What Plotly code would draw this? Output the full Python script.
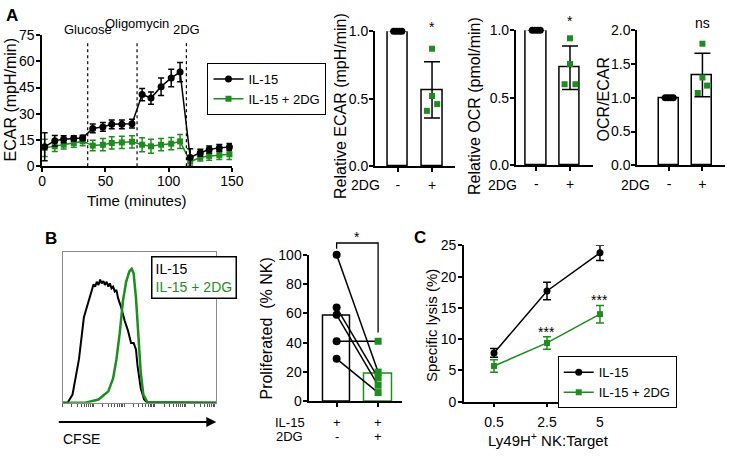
import numpy as np
import plotly.graph_objects as go

W, H = 738, 456
GREEN = "#1f8c1f"
BLACK = "#000000"
FONT = "Liberation Sans, Arial, sans-serif"
TICK = 14
TITLE = 15

# ---------------- Panel A: ECAR time course ----------------
time_min = [2, 10, 17, 25, 32, 40, 48, 55, 63, 71, 79, 86, 94, 102, 109, 117, 125, 132, 140, 148]
ecar_il15 = [11.1, 14.6, 15.5, 16.0, 16.2, 21.6, 22.5, 24.0, 24.0, 24.3, 41.0, 39.0, 45.5, 50.5, 53.8, 5.0, 7.7, 9.6, 10.5, 11.0]
ecar_il15_err = [8, 3, 2, 1.5, 1.5, 2.5, 2.5, 2.5, 2.5, 2.5, 3.5, 3.5, 5, 5, 5.5, 5, 2, 2, 2, 2]
ecar_2dg = [10.5, 11.4, 12.3, 13.3, 14.2, 11.8, 12.3, 13.3, 13.6, 14.0, 12.3, 11.4, 12.3, 12.9, 14.2, 2.6, 5.0, 5.9, 6.3, 6.8]
ecar_2dg_err = [5, 3, 2.5, 2.5, 2.5, 3, 3.5, 3.5, 3.5, 3.5, 4, 4, 3.5, 3.5, 4, 3, 2, 2.5, 2.5, 3]
inj_times = [36, 75, 114]
inj_labels = ["Glucose", "Oligomycin", "2DG"]

# ---------------- Panel A: relative bars ----------------
bar_cats = ["-", "+"]
rel_ecar_ctrl = [1.0, 1.0, 1.0, 1.0]
rel_ecar_2dg = [0.87, 0.52, 0.46, 0.41]
rel_ocr_ctrl = [1.0, 1.0, 1.0, 1.0]
rel_ocr_2dg = [0.94, 0.75, 0.60, 0.60]
ocr_ecar_ctrl = [1.0, 1.0, 1.0, 1.0]
ocr_ecar_2dg = [1.80, 1.30, 1.18, 1.07]
sig_ecar, sig_ocr, sig_ratio = "*", "*", "ns"

# ---------------- Panel B: CFSE histogram ----------------
cfse_x_il15 = [0, 3.2, 6.4, 10.6, 13.8, 16.9, 18.0, 19.0, 20.1, 21.1, 22.2, 23.3, 24.4, 25.4, 26.5, 27.5, 28.6, 29.7,
               30.7, 31.8, 32.8, 33.9, 35.0, 36.0, 38.1, 40.3, 42.4, 44.5, 46.2, 47.7, 48.7, 50.8, 53.0, 55.1, 100]
cfse_y_il15 = [0, 0, 5.4, 28.9, 56.7, 67.5, 70.7, 74.9, 78.6, 77.1, 80.3, 78.2, 81.8, 79.2, 80.7, 78.2, 80.3, 77.1,
               79.2, 76.0, 77.1, 73.9, 74.9, 69.6, 63.2, 54.6, 48.2, 39.6, 39.6, 35.3, 24.6, 9.6, 2.1, 0, 0]
cfse_x_2dg = [0, 14.8, 23.3, 29.7, 32.8, 35.0, 37.1, 39.2, 41.3, 43.4, 44.9, 46.2, 47.7, 49.2, 50.8, 52.5, 55.1, 100]
cfse_y_2dg = [0, 0, 2.1, 7.5, 16.1, 28.9, 46.0, 67.5, 80.3, 87.2, 88.9, 85.7, 69.6, 43.9, 20.3, 5.4, 0.4, 0]

# ---------------- Panel B: proliferation ----------------
prolif_il15 = [100, 64, 59, 41, 29]
prolif_2dg = [20, 16, 11, 41, 6]

# ---------------- Panel C: specific lysis ----------------
ratios = ["0.5", "2.5", "5"]
lysis_il15 = [7.8, 17.7, 23.8]
lysis_il15_err = [0.7, 1.4, 1.2]
lysis_2dg = [5.7, 9.4, 14.0]
lysis_2dg_err = [1.0, 1.0, 1.4]
sig_lysis = ["", "***", "***"]


def dx(a, b):
    return [a / W, b / W]


def dy(top, bottom):
    return [1 - bottom / H, 1 - top / H]


def px(x):
    return x / W


def py(y):
    return 1 - y / H


axis_common = dict(showline=True, linecolor=BLACK, linewidth=1.5, ticks="outside", ticklen=4,
                   tickwidth=1.5, tickcolor=BLACK, showgrid=False, zeroline=False,
                   tickfont=dict(size=TICK, color=BLACK, family=FONT))

fig = go.Figure()

# Panel A time course
fig.add_trace(go.Scatter(x=time_min, y=ecar_2dg, mode="lines+markers", name="IL-15 + 2DG",
                         line=dict(color=GREEN, width=1.5), marker=dict(symbol="square", size=6, color=GREEN),
                         error_y=dict(type="data", array=ecar_2dg_err, color=GREEN, thickness=1.5, width=3),
                         xaxis="x", yaxis="y", legend="legend", cliponaxis=False))
fig.add_trace(go.Scatter(x=time_min, y=ecar_il15, mode="lines+markers", name="IL-15",
                         line=dict(color=BLACK, width=1.5), marker=dict(symbol="circle", size=7, color=BLACK),
                         error_y=dict(type="data", array=ecar_il15_err, color=BLACK, thickness=1.5, width=3),
                         xaxis="x", yaxis="y", legend="legend", cliponaxis=False))
for t in inj_times:
    fig.add_shape(type="line", xref="x", yref="y", x0=t, x1=t, y0=0, y1=71,
                  line=dict(color=BLACK, width=1.2, dash="dot"))

# bar panels
jit_ctrl = [-0.12, -0.04, 0.04, 0.12]
jit_trt = [0.0, 0.0, 0.15, -0.15]
jit_ocr = [0.0, 0.0, -0.16, 0.16]
jit_ratio = [0.0, 0.0, 0.14, -0.14]
bar_panels = [
    ("x2", "y2", rel_ecar_ctrl, rel_ecar_2dg, jit_trt),
    ("x3", "y3", rel_ocr_ctrl, rel_ocr_2dg, jit_ocr),
    ("x4", "y4", ocr_ecar_ctrl, ocr_ecar_2dg, jit_ratio),
]
for xa, ya, ctrl, trt, jit in bar_panels:
    means = [float(np.mean(ctrl)), float(np.mean(trt))]
    sds = [float(np.std(ctrl, ddof=1)), float(np.std(trt, ddof=1))]
    fig.add_trace(go.Bar(x=[0, 1], y=means, width=0.6, marker=dict(color="white", line=dict(color=BLACK, width=1.5)),
                         error_y=dict(type="data", array=sds, color=BLACK, thickness=1.5, width=8,
                                      visible=True),
                         xaxis=xa, yaxis=ya, showlegend=False, cliponaxis=False))
    fig.add_trace(go.Scatter(x=[0 + j for j in jit_ctrl], y=ctrl, mode="markers",
                             marker=dict(symbol="circle", size=7, color=BLACK),
                             xaxis=xa, yaxis=ya, showlegend=False, cliponaxis=False))
    fig.add_trace(go.Scatter(x=[1 + j for j in jit], y=trt, mode="markers",
                             marker=dict(symbol="square", size=6, color=GREEN),
                             xaxis=xa, yaxis=ya, showlegend=False, cliponaxis=False))

# Panel B histogram
fig.add_trace(go.Scatter(x=cfse_x_il15, y=cfse_y_il15, mode="lines", line=dict(color=BLACK, width=2),
                         xaxis="x5", yaxis="y5", showlegend=False))
fig.add_trace(go.Scatter(x=cfse_x_2dg, y=cfse_y_2dg, mode="lines", line=dict(color=GREEN, width=2.5),
                         xaxis="x5", yaxis="y5", showlegend=False))

# Panel B proliferation
fig.add_trace(go.Bar(x=[0], y=[float(np.mean(prolif_il15))], width=0.66,
                     marker=dict(color="white", line=dict(color=BLACK, width=1.5)),
                     xaxis="x6", yaxis="y6", showlegend=False))
fig.add_trace(go.Bar(x=[1], y=[float(np.mean(prolif_2dg))], width=0.66,
                     marker=dict(color="white", line=dict(color=GREEN, width=1.5)),
                     xaxis="x6", yaxis="y6", showlegend=False))
for a, b in zip(prolif_il15, prolif_2dg):
    fig.add_trace(go.Scatter(x=[0, 1], y=[a, b], mode="lines", line=dict(color=BLACK, width=1.5),
                             xaxis="x6", yaxis="y6", showlegend=False))
fig.add_trace(go.Scatter(x=[0] * len(prolif_il15), y=prolif_il15, mode="markers",
                         marker=dict(symbol="circle", size=8, color=BLACK),
                         xaxis="x6", yaxis="y6", showlegend=False, cliponaxis=False))
fig.add_trace(go.Scatter(x=[1] * len(prolif_2dg), y=prolif_2dg, mode="markers",
                         marker=dict(symbol="square", size=7, color=GREEN),
                         xaxis="x6", yaxis="y6", showlegend=False, cliponaxis=False))

# Panel C lysis
fig.add_trace(go.Scatter(x=[0, 1, 2], y=lysis_il15, mode="lines+markers", name="IL-15",
                         line=dict(color=BLACK, width=1.5), marker=dict(symbol="circle", size=7, color=BLACK),
                         error_y=dict(type="data", array=lysis_il15_err, color=BLACK, thickness=1.5, width=4),
                         xaxis="x7", yaxis="y7", legend="legend2", cliponaxis=False))
fig.add_trace(go.Scatter(x=[0, 1, 2], y=lysis_2dg, mode="lines+markers", name="IL-15 + 2DG",
                         line=dict(color=GREEN, width=1.5), marker=dict(symbol="square", size=6, color=GREEN),
                         error_y=dict(type="data", array=lysis_2dg_err, color=GREEN, thickness=1.5, width=4),
                         xaxis="x7", yaxis="y7", legend="legend2", cliponaxis=False))

# ---------------- layout axes ----------------
layout = dict(
    width=W, height=H, margin=dict(l=0, r=0, t=0, b=0), paper_bgcolor="white", plot_bgcolor="rgba(0,0,0,0)",
    font=dict(family=FONT, size=TICK, color=BLACK), bargap=0,
)
layout["xaxis"] = dict(axis_common, domain=dx(39, 233), range=[0, 150], tickvals=[0, 50, 100, 150], anchor="y",
                       ticklabelstandoff=-3)
layout["yaxis"] = dict(axis_common, domain=dy(28, 164), range=[0, 75], tickvals=[0, 15, 30, 45, 60, 75], anchor="x",
                       ticklabelstandoff=-1)

bar_x = [(379, 461, [-0.67, 1.67], 24, 164, [0, 1], [0, 0.5, 1.0]),
         (523, 602, [-0.61, 1.68], 23, 163, [0, 1], [0, 0.5, 1.0]),
         (647, 737, [-0.97, 1.68], 23, 163, [0, 2], [0, 0.5, 1.0, 1.5, 2.0])]
for i, (a, b, rng, top, bot, yr, yt) in enumerate(bar_x):
    n = i + 2
    layout[f"xaxis{n}"] = dict(axis_common, domain=dx(a, b), range=rng, tickvals=[0, 1], ticktext=bar_cats,
                               anchor=f"y{n}", ticklabelstandoff=1)
    layout[f"yaxis{n}"] = dict(axis_common, domain=dy(top, bot), range=yr, tickvals=yt, tickformat=".1f",
                               anchor=f"x{n}", ticklabelstandoff=-2)

minor_ticks = [d * 20 + 20 * np.log10(m) for d in range(5) for m in range(1, 10)]
layout["xaxis5"] = dict(domain=dx(60, 217), range=[0, 100], showline=True, linecolor="#8a8a8a", linewidth=1,
                        mirror=True, ticks="outside", ticklen=3, tickwidth=1, tickcolor="#555",
                        tickvals=minor_ticks, showticklabels=False, showgrid=False, zeroline=False, anchor="y5")
layout["yaxis5"] = dict(domain=dy(253, 409), range=[0, 100], showline=True, linecolor="#8a8a8a", linewidth=1,
                        mirror=True, ticks="", showticklabels=False, showgrid=False, zeroline=False, anchor="x5")

layout["xaxis6"] = dict(axis_common, domain=dx(312, 407), range=[-0.66, 1.58], tickvals=[0, 1],
                        showticklabels=False, anchor="y6")
layout["yaxis6"] = dict(axis_common, domain=dy(255.7, 407.7), range=[0, 100], tickvals=[0, 20, 40, 60, 80, 100],
                        anchor="x6", ticklabelstandoff=-1)

layout["xaxis7"] = dict(axis_common, domain=dx(470, 633), range=[-0.57, 2.44], tickvals=[0, 1, 2],
                        ticktext=ratios, anchor="y7", ticklabelstandoff=3)
layout["yaxis7"] = dict(axis_common, domain=dy(246, 408), range=[0, 25], tickvals=[0, 5, 10, 15, 20, 25],
                        anchor="x7", ticklabelstandoff=-1)

legend_common = dict(bgcolor="white", bordercolor=BLACK, borderwidth=1, font=dict(size=13, color=BLACK),
                     xanchor="left", yanchor="top", tracegroupgap=0, itemwidth=30, traceorder="reversed")
layout["legend"] = dict(legend_common, x=px(208), y=py(57))
layout["legend2"] = dict(legend_common, x=px(566), y=py(361), traceorder="normal")

fig.update_layout(**layout)

# ---------------- annotations ----------------
ann = []


def text(x, y, s, size=TITLE, angle=0, color=BLACK, xref="paper", yref="paper", bold=False, xanchor="center",
         yanchor="middle"):
    ann.append(dict(x=x, y=y, xref=xref, yref=yref, text=f"<b>{s}</b>" if bold else s, showarrow=False,
                    textangle=angle, font=dict(size=size, color=color, family=FONT),
                    xanchor=xanchor, yanchor=yanchor))


# panel letters
text(px(8), py(8), "A", size=17, bold=True)
text(px(48), py(239), "B", size=17, bold=True)
text(px(425), py(238), "C", size=17, bold=True)

# axis titles
text(px(7), py(95), "ECAR (mpH/min)", size=16, angle=-90)
text(px(135), py(199), "Time (minutes)", size=TITLE)
text(px(344), py(102), "Relative ECAR (mpH/min)", size=16, angle=-90)
text(px(481), py(102), "Relative OCR (pmol/min)", size=16, angle=-90)
text(px(613), py(95), "OCR/ECAR", size=16, angle=-90)
text(px(268), py(332), "Proliferated  (% NK)", size=16, angle=-90)
text(px(437), py(329), "Specific lysis (%)", size=15, angle=-90)
text(px(557), py(447), "Ly49H<sup>+</sup> NK:Target", size=TITLE)

# injection labels
for t, lab, yy in zip(inj_times, inj_labels, [22, 16, 22]):
    text(t, py(yy), lab, size=13, xref="x")

# 2DG row labels for bar panels
for xc in [369, 510, 645]:
    text(px(xc), py(183), "2DG", size=TICK)

# significance marks (positioned relative to each subplot's domain)
text(1, 1.03, sig_ecar, size=TICK, xref="x2", yref="y2 domain")
text(1, 1.07, sig_ocr, size=TICK, xref="x3", yref="y3 domain")
text(1, 1.05, sig_ratio, size=TICK, xref="x4", yref="y4 domain")
for i, s in enumerate(sig_lysis):
    if s:
        top = lysis_2dg[i] + lysis_2dg_err[i]
        text(i, top + 0.8, s, size=TICK, xref="x7", yref="y7")

# panel B histogram legend
ann.append(dict(x=px(150), y=py(257), xref="paper", yref="paper", xanchor="left", yanchor="top",
                text="IL-15<br><span style='color:%s'>IL-15 + 2DG</span>" % GREEN, align="left",
                showarrow=False, bordercolor=BLACK, borderwidth=1.5, borderpad=3, bgcolor="white",
                font=dict(size=TICK, color=BLACK, family=FONT)))
# CFSE arrow
ann.append(dict(x=px(217), y=py(429), ax=-159, ay=0, xref="paper", yref="paper", axref="pixel", ayref="pixel",
                showarrow=True, arrowhead=2, arrowsize=1, arrowwidth=2, arrowcolor=BLACK, text=""))
text(px(58), py(447), "CFSE", size=TICK, xanchor="left")

# panel B x labels
ROW = 13
text(px(292), py(430), "IL-15", size=ROW)
text(px(292), py(444), "2DG", size=ROW)
text(0, py(430), "+", size=ROW, xref="x6")
text(1, py(430), "+", size=ROW, xref="x6")
text(0, py(444), "-", size=ROW, xref="x6")
text(1, py(444), "+", size=ROW, xref="x6")

# significance bracket (panel B)
r0, r1 = layout["xaxis6"]["range"]


def fx6(v):
    return (v - r0) / (r1 - r0)


br_top, br_left, br_right = 1.08, 1.04, 0.47
fig.add_shape(type="path", xref="x6 domain", yref="y6 domain",
              path=f"M {fx6(0)},{br_left} L {fx6(0)},{br_top} L {fx6(1)},{br_top} L {fx6(1)},{br_right}",
              line=dict(color=BLACK, width=1.3))
text(0.5, 1.12, "*", size=TICK, xref="x6", yref="y6 domain")

fig.update_layout(annotations=ann)
fig.write_html("out.html", config={"displayModeBar": False},
               post_script="document.body.style.margin='0';document.body.style.padding='0';"
                           "document.body.style.overflow='hidden';")
